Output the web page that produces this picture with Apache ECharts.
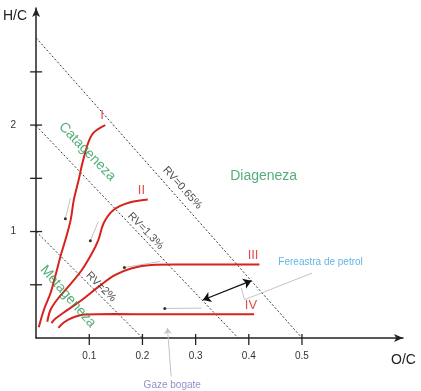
<!DOCTYPE html>
<html><head><meta charset="utf-8">
<script src="https://cdn.jsdelivr.net/npm/echarts@6/dist/echarts.min.js"></script>
<style>html,body{margin:0;padding:0;background:#fff}#c{width:421px;height:391px}</style>
</head><body><div id="c"></div>
<script>
// ---- data ----
const xTicks = [0.1, 0.2, 0.3, 0.4, 0.5];
const yTicks = [0.5, 1, 1.5, 2, 2.5];
const yLabelled = [1, 2];
const curveNames = ['I', 'II', 'III', 'IV'];
const curveI = [[0.005,0.10],[0.015,0.27],[0.027,0.42],[0.036,0.58],[0.046,0.77],[0.055,0.92],[0.065,1.11],[0.071,1.30],[0.080,1.485],[0.0895,1.69],[0.105,1.91],[0.13,2.0]];
const curveII = [[0.021,0.153],[0.027,0.263],[0.039,0.357],[0.061,0.485],[0.086,0.639],[0.105,0.796],[0.117,0.92],[0.127,1.078],[0.145,1.20],[0.174,1.27],[0.21,1.30]];
const curveIII = [[0.029,0.14],[0.036,0.18],[0.055,0.25],[0.086,0.357],[0.117,0.48],[0.148,0.59],[0.18,0.655],[0.217,0.686],[0.26,0.69],[0.33,0.69],[0.42,0.69]];
const curveIV = [[0.042,0.095],[0.052,0.145],[0.067,0.188],[0.092,0.22],[0.148,0.225],[0.217,0.222],[0.3,0.222],[0.41,0.222]];
const curveLabelPos = [[0.124,2.095],[0.198,1.383],[0.408,0.78],[0.404,0.31]];
const rvNames = ['RV=0.65%', 'RV=1.3%', 'RV=2%'];
const rvLines = [[[0,2.82],[0.5,0]], [[0,1.994],[0.38,0]], [[0,1],[0.2,0]]];
const rvLabelPos = [[0.275,1.41],[0.206,1.006],[0.122,0.48]];
const zoneNames = ['Diageneza', 'Catageneza', 'Metageneza'];
const zoneLabelPos = [[0.428,1.52],[0.096,1.75],[0.060,0.39]];
const pointers = [[[0.0645,1.313],[0.055,1.12]], [[0.117,1.094],[0.102,0.913]], [[0.233,0.719],[0.166,0.662]], [[0.311,0.281],[0.242,0.277]]];
const windowArrow = [[0.3136,0.357],[0.405,0.538]];
const windowName = 'Fereastra de petrol';
const windowLabelPos = [0.535,0.71];
const windowPointer = [[0.519,0.61],[0.392,0.36],[0.386,0.47]];
const gasName = 'Gaze bogate';
const gasLabelPos = [0.256,-0.44];
const gasPointer = [[0.254,-0.36],[0.247,0.094]];

// ---- chart ----
const FONT = "'Liberation Sans', Arial, sans-serif";
const RED = '#d6231b', GREEN = '#2a9a55';
const chart = echarts.init(document.getElementById('c'), null, {renderer: 'canvas'});
const curves = [curveI, curveII, curveIII, curveIV];
const series = [];

rvLines.forEach(l => series.push({
  type: 'line', data: l, symbol: 'none', silent: true, z: 2,
  lineStyle: {color: '#222', width: 0.9, type: [2, 2]}
}));
curves.forEach(c => series.push({
  type: 'line', data: c, symbol: 'none', smooth: 0.35, silent: true, z: 4,
  lineStyle: {color: RED, width: 2}
}));
pointers.forEach(p => series.push({
  type: 'line', silent: true, z: 3,
  data: [{value: p[0], symbol: 'none'}, {value: p[1], symbol: 'circle', symbolSize: 3}],
  itemStyle: {color: '#333'}, lineStyle: {color: '#c4c4c4', width: 1}
}));
series.push({
  type: 'lines', coordinateSystem: 'cartesian2d', silent: true, z: 5,
  symbol: ['arrow', 'arrow'], symbolSize: 8,
  lineStyle: {color: '#111', width: 1.3, opacity: 1},
  data: [{coords: windowArrow}]
});
series.push({
  type: 'lines', coordinateSystem: 'cartesian2d', silent: true, polyline: true, clip: false, z: 3,
  symbol: ['none', 'arrow'], symbolSize: 5,
  lineStyle: {color: '#c4c4c4', width: 1, opacity: 1},
  data: [{coords: windowPointer}]
});
series.push({
  type: 'lines', coordinateSystem: 'cartesian2d', silent: true, clip: false, z: 3,
  symbol: ['none', 'arrow'], symbolSize: 6,
  lineStyle: {color: '#c4c4c4', width: 1, opacity: 1},
  data: [{coords: gasPointer}]
});

function textItem(pos, text, color, size, rotate) {
  return {value: pos, label: {show: true, position: 'inside', formatter: text, color: color,
    fontSize: size, fontFamily: FONT, rotate: rotate || 0, align: 'center', verticalAlign: 'middle'}};
}
const texts = [];
curveNames.forEach((n, i) => texts.push(textItem(curveLabelPos[i], n, RED, 13)));
const rvRot = [-48, -46, -45];
rvNames.forEach((n, i) => texts.push(textItem(rvLabelPos[i], n, '#222', 11, rvRot[i])));
const zoneRot = [0, -46, -49];
zoneNames.forEach((n, i) => texts.push(textItem(zoneLabelPos[i], n, GREEN, 14, zoneRot[i])));
texts.push(textItem(windowLabelPos, windowName, '#3aa3dc', 10));
texts.push(textItem(gasLabelPos, gasName, '#7a73b5', 10));
series.push({type: 'scatter', symbolSize: 0, clip: false, silent: true, z: 6, data: texts});

series.push({
  type: 'custom', silent: true, z: 7, clip: false,
  data: xTicks.map(v => [v]),
  renderItem: (params, api) => {
    const p = api.coord([api.value(0), 0]);
    return {type: 'line', shape: {x1: p[0], y1: p[1] - 4, x2: p[0], y2: p[1] + 7},
      style: {stroke: '#222', lineWidth: 1.3}};
  }
});
series.push({
  type: 'custom', silent: true, z: 7, clip: false,
  data: yTicks.map(v => [v]),
  renderItem: (params, api) => {
    const p = api.coord([0, api.value(0)]);
    return {type: 'line', shape: {x1: p[0] - 6, y1: p[1], x2: p[0] + 6, y2: p[1]},
      style: {stroke: '#222', lineWidth: 1.3}};
  }
});

chart.setOption({
  animation: false,
  backgroundColor: '#fff',
  grid: {left: 34, right: 18, top: 8, bottom: 53},
  xAxis: {
    type: 'value', min: 0, max: 0.69, interval: 0.1,
    axisLine: {lineStyle: {color: '#222', width: 1.5}, symbol: ['none', 'arrow'], symbolSize: [6, 9]},
    axisTick: {show: false}, splitLine: {show: false},
    axisLabel: {margin: 13, fontSize: 10, color: '#333', fontFamily: FONT,
      formatter: v => { const r = Math.round(v * 10) / 10; return xTicks.includes(r) && Math.abs(v - r) < 1e-6 ? String(r) : ''; }},
    name: 'O/C', nameLocation: 'end', nameGap: -12,
    nameTextStyle: {fontSize: 14, color: '#222', fontFamily: FONT, align: 'left', verticalAlign: 'top', padding: [15, 0, 0, 0]}
  },
  yAxis: {
    type: 'value', min: 0, max: 3.1, interval: 0.5,
    axisLine: {lineStyle: {color: '#222', width: 1.5}, symbol: ['none', 'arrow'], symbolSize: [6, 9]},
    axisTick: {show: false}, splitLine: {show: false},
    axisLabel: {margin: 20, fontSize: 10, color: '#333', fontFamily: FONT,
      formatter: v => yLabelled.includes(v) ? String(v) : ''},
    name: 'H/C', nameLocation: 'end', nameGap: -8,
    nameTextStyle: {fontSize: 14, color: '#222', fontFamily: FONT, align: 'right', verticalAlign: 'middle', padding: [0, 9, 0, 0]}
  },
  series: series
});
</script></body></html>
